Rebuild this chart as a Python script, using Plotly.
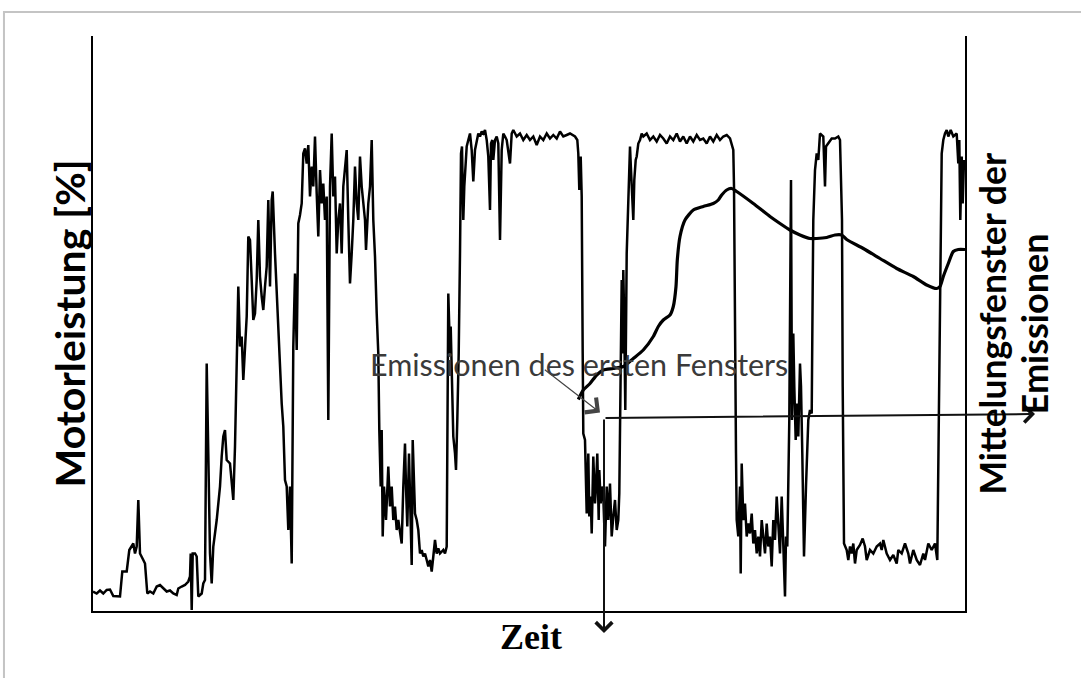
import plotly.graph_objects as go

# Motorleistung [%] über der Zeit [s]
motor_power = [
    (0, 3.9), (3.7, 3.5), (7, 4.1), (10.3, 3.5), (13.7, 4.2), (17, 4.3), (20.3, 3.0), (27, 2.9),
    (29.3, 7.9), (33.7, 7.9), (36.3, 12.2), (38.7, 12.9), (40.3, 13.5), (42, 11.5), (43.7, 12.9),
    (45.3, 22.2), (47, 11.5), (50.3, 10.2), (52, 9.5), (54.3, 3.5), (57, 3.9), (60.3, 3.5),
    (63.7, 4.9), (67, 5.2), (70.3, 4.5), (73.7, 3.9), (77, 4.1), (80.3, 3.5), (83.7, 3.2),
    (85.3, 4.5), (88.7, 4.9), (92, 5.2), (95.3, 5.9), (97, 6.9), (97.7, 11.5), (98.7, 0.2),
    (99.7, 11.5), (102, 11.5), (103.7, 10.9), (105.3, 2.9), (108.7, 3.5), (110.3, 5.5), (112, 6.2),
    (113.7, 49.5), (115.3, 31.5), (117, 11.5), (118.7, 5.5), (120.3, 12.9), (123.7, 18.2),
    (127, 24.9), (128.7, 30.9), (130.3, 34.9), (132, 36.2), (133.7, 30.2), (137, 29.5),
    (138.7, 26.2), (140.3, 22.2), (142, 32.9), (143.7, 51.5), (145.3, 64.9), (147, 52.9),
    (148.7, 54.9), (150.3, 46.2), (152, 51.5), (153.7, 58.9), (155.3, 74.9), (157, 74.2),
    (158.7, 66.2), (160.3, 58.2), (162, 59.5), (163.7, 66.2), (165.3, 78.2), (167, 66.9),
    (168.7, 62.9), (170.3, 60.2), (172, 64.9), (173.7, 68.9), (175.3, 82.2), (177, 64.9),
    (178.7, 82.2), (179.7, 83.9), (182, 71.5), (183.7, 63.5), (185.3, 55.5), (187, 50.2),
    (188.7, 41.5), (190.3, 36.9), (192, 26.2), (193.7, 24.9), (195.3, 16.2), (197, 24.9),
    (198.7, 9.5), (200.3, 52.9), (202, 67.5), (203.7, 52.2), (205.3, 77.5), (207, 79.2),
    (208.7, 81.5), (210.3, 91.5), (212, 92.5), (213.7, 89.5), (215.3, 93.2), (217, 82.9),
    (218.7, 88.9), (220.3, 84.9), (222, 94.9), (223.7, 83.5), (225.3, 74.9), (227, 88.2),
    (228.7, 81.5), (230.3, 85.5), (232, 78.2), (233.7, 82.9), (235.3, 38.2), (237, 84.9),
    (238.7, 95.5), (240.3, 82.9), (242, 86.9), (243.7, 71.5), (245.3, 78.2), (247, 81.5),
    (248.7, 71.5), (250.3, 84.9), (252, 88.2), (253.7, 92.2), (255.3, 78.2), (257, 65.5),
    (258.7, 71.5), (260.3, 78.2), (262, 88.9), (263.7, 81.5), (265.3, 78.2), (267, 90.9),
    (268.7, 84.9), (270.3, 81.5), (272, 78.2), (273, 72.2), (275.3, 81.5), (277, 84.9),
    (278.7, 94.2), (280.3, 78.2), (282, 70.9), (283.7, 59.5), (285.3, 51.5), (286.3, 36.2),
    (287, 30.2), (287.7, 24.9), (288.7, 36.2), (289.7, 14.9), (291, 24.9), (293, 18.2),
    (295.3, 28.9), (297, 20.9), (298.7, 24.9), (300.3, 18.2), (302, 20.9), (303.7, 16.2),
    (305.3, 18.2), (307, 15.5), (308.7, 13.5), (310.3, 24.9), (312, 33.5), (313, 24.9),
    (314.3, 16.9), (316, 31.5), (317, 24.9), (318.7, 9.2), (319.7, 34.2), (321, 26.2),
    (322, 19.5), (323.7, 18.2), (325.3, 16.2), (327, 11.5), (328.7, 12.2), (330.3, 10.9),
    (332, 11.5), (333.7, 10.2), (335.3, 8.9), (337, 10.2), (338.7, 7.9), (340.3, 10.9),
    (342, 14.2), (343.7, 11.5), (345.3, 12.5), (347, 11.5), (350.3, 12.2), (352, 11.5),
    (353.7, 12.9), (355.3, 63.5), (357, 51.5), (357.7, 56.9), (358.7, 50.2), (360.3, 34.9),
    (362, 31.5), (363, 28.2), (364.3, 38.2), (365.7, 51.5), (367, 71.5), (368, 91.5),
    (369, 92.9), (370.3, 78.2), (371.3, 84.9), (372.7, 91.5), (373.7, 92.9), (375.3, 94.2),
    (377, 95.5), (378.7, 92.2), (380.3, 85.9), (382, 92.2), (383.7, 94.2), (385.3, 95.5),
    (387, 94.9), (388.7, 95.9), (390.3, 95.5), (392, 96.2), (393.7, 94.2), (395.3, 90.9),
    (397, 80.2), (398, 93.5), (399.3, 94.2), (400.3, 90.2), (402, 94.2), (403.7, 94.9),
    (405.3, 93.5), (407, 74.2), (408.7, 92.2), (410.3, 95.5), (412, 94.9), (413.7, 94.2),
    (417, 89.5), (418.7, 95.5), (420.3, 96.2), (423.7, 94.9), (427, 95.5), (430.3, 94.2),
    (433.7, 95.2), (437, 94.2), (440.3, 94.9), (443.7, 93.2), (447, 94.9), (450.3, 94.2),
    (453.7, 95.5), (457, 94.5), (460.3, 95.2), (463.7, 94.5), (467, 95.9), (470.3, 94.9),
    (473.7, 95.2), (477, 95.5), (482, 94.9), (484.3, 94.2),
    (485.3, 91.5), (486.3, 84.2), (487.7, 90.9), (488.7, 82.9), (489.7, 51.5), (490.3, 35.5),
    (492, 34.2), (493, 24.9), (493.7, 19.5), (495.3, 31.5), (496.3, 18.9), (497.7, 22.9),
    (498.7, 15.5), (500.3, 30.9), (502, 21.5), (503, 24.9), (504.3, 31.5), (505.7, 18.2),
    (506.3, 28.2), (507.7, 21.5), (509, 24.9), (510.3, 22.9), (512, 12.9), (513.7, 24.9),
    (515.3, 18.2), (517, 25.5), (518.7, 14.9), (520.3, 18.9), (522, 22.2), (523.7, 16.2),
    (525.3, 18.2), (526.3, 23.5), (527.7, 44.9), (528.7, 66.2), (529.7, 51.5), (530.3, 68.2),
    (531.3, 56.9), (532.3, 40.2), (533.7, 71.5), (535.3, 82.2), (537, 92.9), (538, 88.2),
    (539, 84.9), (540.3, 78.2), (541.3, 86.2), (542.7, 90.2), (543.7, 90.9), (545.3, 93.5),
    (547, 94.2), (548.7, 95.5), (550.3, 94.9), (553.7, 95.5), (557, 94.2), (560.3, 94.9),
    (563.7, 93.9), (567, 95.2), (570.3, 94.5), (573.7, 93.5), (577, 94.9), (580.3, 94.2),
    (583.7, 95.5), (587, 93.9), (590.3, 94.9), (593.7, 93.5), (597, 94.9), (600.3, 93.9),
    (603.7, 95.2), (607, 94.2), (610.3, 94.5), (613.7, 93.5), (617, 94.9), (620.3, 93.9),
    (623.7, 95.2), (627, 94.2), (630.3, 94.9), (633.7, 95.2), (637, 94.5), (638.7, 93.2),
    (640.3, 92.2), (641, 84.9), (641.7, 58.2), (643, 31.5), (643.7, 18.2), (645.3, 14.9),
    (647, 24.9), (647.7, 7.5), (648.7, 29.5), (650.3, 18.2), (652, 21.5), (653.7, 14.9),
    (655.3, 17.5), (657, 15.5), (658.7, 19.5), (660.3, 13.5), (662, 16.2), (663.7, 11.5),
    (665.3, 14.9), (667, 10.9), (668.7, 18.2), (670.3, 14.2), (672, 11.5), (673.7, 17.5),
    (675.3, 12.9), (677, 14.9), (678.7, 8.9), (680.3, 18.2), (682, 14.2), (683.7, 22.9),
    (685.3, 18.2), (687, 11.5),
    (688.7, 22.9), (690.3, 11.5), (692, 2.9), (693, 14.9), (694.3, 12.9), (696.3, 38.2),
    (698, 86.2), (699, 38.2), (700.3, 55.5), (701.3, 44.9), (702.7, 34.2), (703.7, 41.5),
    (705.3, 34.9), (707, 49.5), (708, 44.9), (709.3, 31.5), (711, 10.9), (713, 24.9),
    (715.3, 38.2), (717, 40.2), (718.7, 39.5), (719.7, 64.9), (720.3, 78.2), (722, 88.2),
    (723.7, 91.5), (725.3, 90.2), (727, 95.5), (730.3, 94.9), (732, 84.9), (733, 92.9),
    (735.3, 93.5), (738.7, 94.5), (742, 94.5), (745.3, 94.9), (747, 94.2), (748, 85.5),
    (749, 78.2), (749.7, 44.9), (751, 13.5), (753.7, 12.2), (755.3, 10.2), (757, 12.9),
    (758.7, 11.5), (760.3, 13.5), (762, 9.5), (763.7, 12.2), (767, 13.2), (769.7, 14.5),
    (772, 12.9), (773.7, 10.2), (777, 12.2), (780.3, 11.5), (783.7, 12.9), (787, 13.5),
    (788.7, 12.2), (790.3, 14.2), (793.7, 11.5), (797, 10.2), (800.3, 11.2), (803.7, 9.5),
    (805.3, 12.2), (808.7, 11.5), (812, 13.5), (815.3, 11.5), (817, 9.5), (820.3, 12.2),
    (823.7, 10.2), (827, 9.2), (830.3, 11.5), (832, 10.2), (835.3, 13.5), (838.7, 12.2),
    (842, 13.5), (844.3, 10.2), (845.3, 31.5), (847, 64.9), (848.7, 91.5), (850.3, 94.2),
    (852, 95.5), (853.7, 96.2), (855.3, 94.9), (857.7, 96.2), (860.3, 94.9), (863.7, 95.5),
    (865.3, 89.5), (866.3, 94.2), (867.3, 78.2), (868.7, 90.9), (869.7, 81.5), (871, 90.2),
    (872, 88.2),
]

# gleitender Mittelwert der Emissionen (Mittelungsfenster)
window_average = [
    (485.3, 42.3), (490.3, 44.2), (497, 45.5), (503.7, 47.2), (510.3, 48.2), (520.3, 48.5),
    (530.3, 48.9), (540.3, 50.5), (550.3, 52.2), (560.3, 54.9), (565.3, 56.9), (570.3, 58.2),
    (577, 59.2), (580.3, 60.9), (583, 64.9), (584.3, 70.2), (587, 74.9), (592, 78.2),
    (600.3, 80.2), (610.3, 80.9), (620.3, 81.5), (625.3, 82.2), (628.7, 83.2), (633.7, 84.2),
    (638.7, 84.5), (643.7, 83.9), (660.3, 81.5), (677, 78.9), (687, 77.5), (697, 76.2),
    (707, 75.2), (717, 74.5), (723.7, 74.5), (733.7, 74.7), (742, 75.2), (748.7, 75.2),
    (753.7, 74.3), (770.3, 72.5), (787, 70.5), (803.7, 68.5), (820.3, 66.9), (833.7, 65.2),
    (843.7, 64.5), (847, 64.9), (850.3, 66.9), (855.3, 69.5), (860.3, 71.9), (865.3, 72.3),
    (872, 72.3),
]

# Achsen des ersten Mittelungsfensters (Ursprung, Ende Zeitachse, Ende Emissionsachse)
window_origin = (511, 38.6)
window_time_end = (511, -4.4)
window_emission_end = (942, 39.4)
# Beschriftung "Emissionen des ersten Fensters": Textposition, Pfeilanfang, Pfeilspitze
label_pos = (486, 49.4)
label_arrow_tail = (450.3, 48.5)
label_arrow_head = (507, 39.7)

x_range = [0, 872]
y_range = [0, 115]

zeit, leistung = zip(*motor_power)
avg_t, avg_v = zip(*window_average)

fig = go.Figure()
fig.add_trace(go.Scatter(x=list(zeit), y=list(leistung), mode="lines",
                         line=dict(color="black", width=2.5), hoverinfo="skip"))
fig.add_trace(go.Scatter(x=list(avg_t), y=list(avg_v), mode="lines",
                         line=dict(color="black", width=3.2, shape="spline", smoothing=0.6),
                         hoverinfo="skip"))

annotations = [
    dict(x=label_pos[0], y=label_pos[1], xref="x", yref="y", showarrow=False,
         text="Emissionen des ersten Fensters",
         font=dict(family="Lato", size=30.5, color="#3a3a3a"),
         xanchor="center", yanchor="middle"),
    dict(x=label_arrow_head[0], y=label_arrow_head[1], xref="x", yref="y",
         ax=label_arrow_tail[0], ay=label_arrow_tail[1], axref="x", ayref="y",
         showarrow=True, arrowhead=4, arrowsize=3, arrowwidth=1.2, arrowcolor="#444444", text=""),
    dict(x=window_time_end[0], y=window_time_end[1], xref="x", yref="y",
         ax=window_origin[0], ay=window_origin[1], axref="x", ayref="y",
         showarrow=True, arrowhead=4, arrowsize=1.6, arrowwidth=2, arrowcolor="#111111", text=""),
    dict(x=window_emission_end[0], y=window_emission_end[1], xref="x", yref="y",
         ax=window_origin[0], ay=window_origin[1], axref="x", ayref="y",
         showarrow=True, arrowhead=4, arrowsize=1.6, arrowwidth=2, arrowcolor="#111111", text=""),
    dict(x=-0.0264, y=0.5, xref="paper", yref="paper", showarrow=False,
         text="<b>Motorleistung [%]</b>", textangle=-90,
         font=dict(family="Lato", size=41, color="black"),
         xanchor="center", yanchor="middle"),
    dict(x=1.0321, y=0.5, xref="paper", yref="paper", showarrow=False,
         text="<b>Mittelungsfenster der</b>", textangle=-90,
         font=dict(family="Lato", size=35.5, color="black"),
         xanchor="center", yanchor="middle"),
    dict(x=1.079, y=0.5, xref="paper", yref="paper", showarrow=False,
         text="<b>Emissionen</b>", textangle=-90,
         font=dict(family="Lato", size=36, color="black"),
         xanchor="center", yanchor="middle"),
    dict(x=0.5023, y=-0.0452, xref="paper", yref="paper", showarrow=False,
         text="<b>Zeit</b>",
         font=dict(family="Liberation Serif", size=36, color="black"),
         xanchor="center", yanchor="middle"),
]

fig.update_layout(
    width=1081, height=678,
    margin=dict(l=93, r=116, t=36, b=67),
    paper_bgcolor="white", plot_bgcolor="white",
    showlegend=False,
    annotations=annotations,
    shapes=[dict(type="rect", xref="paper", yref="paper",
                 x0=-0.1021, x1=1.25, y0=-0.25, y1=1.0417,
                 line=dict(color="#c4c4c4", width=2), fillcolor="rgba(0,0,0,0)", layer="below")],
    xaxis=dict(range=x_range, showline=True, linecolor="black", linewidth=2,
               showgrid=False, zeroline=False, showticklabels=False, ticks=""),
    yaxis=dict(range=y_range, showline=True, mirror=True, linecolor="black", linewidth=2,
               showgrid=False, zeroline=False, showticklabels=False, ticks=""),
)

fig.write_html(
    "out.html",
    config={"displayModeBar": False},
    post_script="document.body.style.margin='0';document.body.style.overflow='hidden';",
)
